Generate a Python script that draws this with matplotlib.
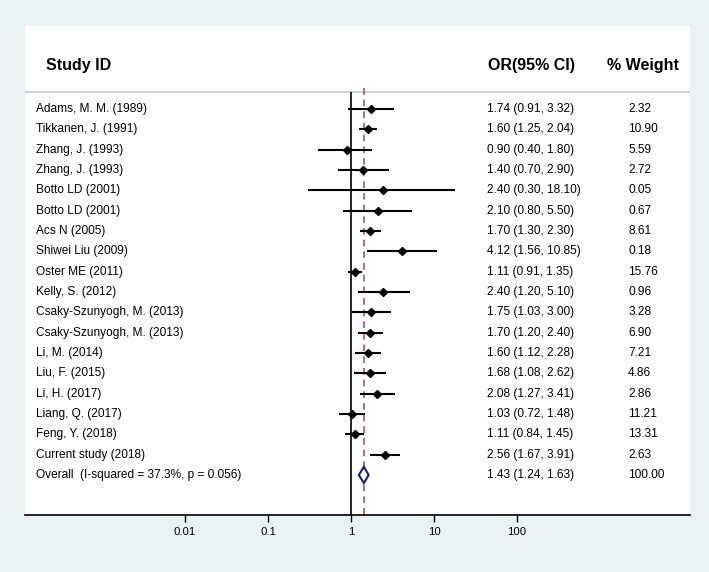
import numpy as np
import matplotlib.pyplot as plt
from matplotlib.patches import Polygon

# Study data
studies = [
    "Adams, M. M. (1989)", "Tikkanen, J. (1991)", "Zhang, J. (1993)", "Zhang, J. (1993)",
    "Botto LD (2001)", "Botto LD (2001)", "Acs N (2005)", "Shiwei Liu (2009)",
    "Oster ME (2011)", "Kelly, S. (2012)", "Csaky-Szunyogh, M. (2013)",
    "Csaky-Szunyogh, M. (2013)", "Li, M. (2014)", "Liu, F. (2015)", "Li, H. (2017)",
    "Liang, Q. (2017)", "Feng, Y. (2018)", "Current study (2018)",
]
or_est = [1.74, 1.60, 0.90, 1.40, 2.40, 2.10, 1.70, 4.12, 1.11, 2.40, 1.75, 1.70, 1.60, 1.68, 2.08, 1.03, 1.11, 2.56]
ci_low = [0.91, 1.25, 0.40, 0.70, 0.30, 0.80, 1.30, 1.56, 0.91, 1.20, 1.03, 1.20, 1.12, 1.08, 1.27, 0.72, 0.84, 1.67]
ci_high = [3.32, 2.04, 1.80, 2.90, 18.10, 5.50, 2.30, 10.85, 1.35, 5.10, 3.00, 2.40, 2.28, 2.62, 3.41, 1.48, 1.45, 3.91]
weights = [2.32, 10.90, 5.59, 2.72, 0.05, 0.67, 8.61, 0.18, 15.76, 0.96, 3.28, 6.90, 7.21, 4.86, 2.86, 11.21, 13.31, 2.63]

overall_label = "Overall  (I-squared = 37.3%, p = 0.056)"
overall_est = 1.43
overall_ci = (1.24, 1.63)
overall_weight = 100.00

xticks = [0.01, 0.1, 1, 10, 100]
xtick_labels = ["0.01", "0.1", "1", "10", "100"]

plt.rcParams["font.family"] = ["Liberation Sans", "DejaVu Sans"]

bg = "#e9f1f3"
fig = plt.figure(figsize=(7.09, 5.72), dpi=100, facecolor=bg)
ax = fig.add_axes([25 / 709, 57 / 572, 665 / 709, 489 / 572])
ax.set_facecolor("white")

n = len(studies)
rows = np.arange(n)
overall_row = n

ax.set_xscale("log")
ax.set_xlim(10 ** -3.928, 10 ** 4.084)
ax.set_ylim(overall_row + 1.97, -4.08)

# reference lines
header_line_y = -0.84
ax.axhline(header_line_y, color="#c8c8c8", lw=1.2)
ax.vlines(1, header_line_y, overall_row + 1.97, color="black", lw=1.2)
ax.vlines(overall_est, -1.05, overall_row + 1.97, color="#9e5a68", lw=1.2,
          linestyles=(0, (4, 3)))

# study CIs and point estimates
ax.hlines(rows, ci_low, ci_high, color="black", lw=1.5)
ax.plot(or_est, rows, "D", color="black", markersize=4)

# pooled diamond
h = 0.4
diamond = Polygon([(overall_ci[0], overall_row), (overall_est, overall_row - h),
                   (overall_ci[1], overall_row), (overall_est, overall_row + h)],
                  closed=True, facecolor="white", edgecolor="#1c1c80", lw=1.5, zorder=3)
ax.add_patch(diamond)

# text columns
tr = ax.get_yaxis_transform()
x_name, x_or, x_w = 0.0165, 0.695, 0.907
for i in range(n):
    ax.text(x_name, i, studies[i], transform=tr, va="center", fontsize=8.6)
    ax.text(x_or, i, f"{or_est[i]:.2f} ({ci_low[i]:.2f}, {ci_high[i]:.2f})",
            transform=tr, va="center", fontsize=8.6)
    ax.text(x_w, i, f"{weights[i]:.2f}", transform=tr, va="center", fontsize=8.6)
ax.text(x_name, overall_row, overall_label, transform=tr, va="center", fontsize=8.6)
ax.text(x_or, overall_row, f"{overall_est:.2f} ({overall_ci[0]:.2f}, {overall_ci[1]:.2f})",
        transform=tr, va="center", fontsize=8.6)
ax.text(x_w, overall_row, f"{overall_weight:.2f}", transform=tr, va="center", fontsize=8.6)

# headers
header_y = -2.16
ax.text(0.0316, header_y, "Study ID", transform=tr, va="center", fontsize=11.5, fontweight="bold")
ax.text(0.696, header_y, "OR(95% CI)", transform=tr, va="center", fontsize=11.5, fontweight="bold")
ax.text(0.875, header_y, "% Weight", transform=tr, va="center", fontsize=11.5, fontweight="bold")

# axes styling
for side in ["top", "left", "right"]:
    ax.spines[side].set_visible(False)
ax.spines["bottom"].set_linewidth(1.2)
ax.set_yticks([])
ax.set_xticks(xticks)
ax.set_xticklabels(xtick_labels, fontsize=8.2)
ax.xaxis.set_minor_locator(plt.NullLocator())
ax.tick_params(axis="x", direction="out", length=5, width=1, pad=3.5)

fig.savefig("out.png", dpi=100, facecolor=bg)
